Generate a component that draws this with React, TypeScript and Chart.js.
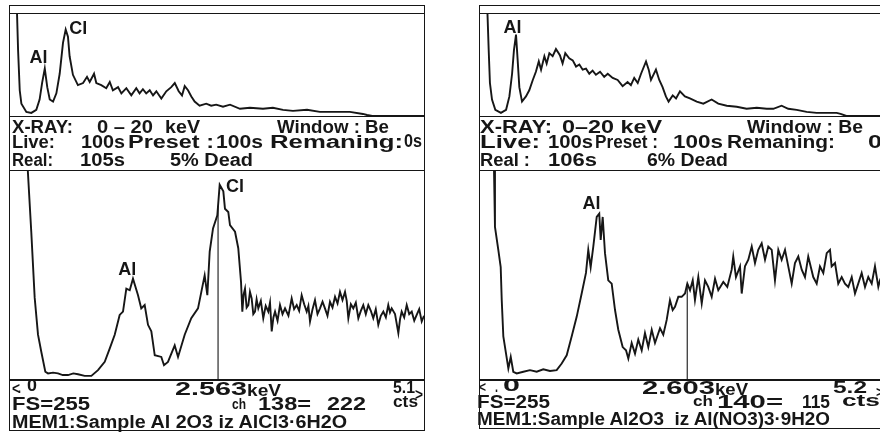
import React, { useEffect, useLayoutEffect, useRef } from "react";
import { Chart, registerables } from "chart.js";

Chart.register(...registerables);

const INK = "#161616";
const FONT = '"Liberation Sans", Arial, Helvetica, sans-serif';

// ---------- data: overview spectra 0–20 keV (relative intensity, %) ----------
const leftTopKeV = [0.33, 0.39, 0.47, 0.55, 0.79, 1.03, 1.27, 1.43, 1.55, 1.68, 1.8, 1.92, 2.08, 2.24, 2.4, 2.56, 2.69, 2.8, 2.88, 3.04, 3.28, 3.53, 3.72, 3.85, 4.06, 4.17, 4.41, 4.65, 4.82, 4.97, 5.22, 5.38, 5.62, 5.86, 6.1, 6.26, 6.42, 6.58, 6.75, 6.91, 7.07, 7.31, 7.55, 7.79, 7.96, 8.15, 8.31, 8.44, 8.6, 8.76, 8.92, 9.16, 9.48, 9.72, 9.96, 10.29, 10.63, 11.11, 11.59, 12.22, 12.7, 13.19, 13.67, 14.35, 14.97, 15.6, 16.42, 17.05, 17.25, 17.5, 20];
const leftTopCounts = [106, 64, 25, 12, 4, 3, 6, 16, 32, 46, 28, 16, 14, 22, 41, 71, 84, 77, 58, 40, 30, 32, 38, 33, 41, 32, 30, 27, 33, 25, 28, 22, 27, 20, 27, 22, 26, 22, 25, 20, 24, 17, 24, 28, 32, 24, 20, 29, 25, 19, 14, 10, 12, 10, 11, 9, 11, 7, 8, 7, 8, 6, 5, 6, 4, 4, 4, 2, 1, 0, 0];

const rightTopKeV = [0.35, 0.42, 0.48, 0.58, 0.74, 1.01, 1.26, 1.42, 1.55, 1.64, 1.74, 1.82, 1.9, 2.03, 2.22, 2.38, 2.55, 2.7, 2.84, 2.95, 3.11, 3.22, 3.35, 3.51, 3.67, 3.86, 3.99, 4.12, 4.31, 4.48, 4.64, 4.8, 4.96, 5.12, 5.28, 5.44, 5.6, 5.8, 6.0, 6.17, 6.41, 6.65, 6.89, 7.13, 7.29, 7.45, 7.62, 7.78, 8.02, 8.15, 8.26, 8.5, 8.66, 8.82, 8.98, 9.11, 9.31, 9.47, 9.66, 9.9, 10.14, 10.47, 10.79, 11.19, 11.51, 11.92, 12.4, 12.88, 13.37, 13.85, 14.17, 14.57, 14.89, 15.3, 15.78, 16.26, 16.75, 17.23, 17.42, 17.7, 20];
const rightTopCounts = [106, 64, 32, 16, 6, 3, 6, 19, 41, 64, 79, 54, 28, 14, 19, 25, 35, 43, 53, 45, 58, 51, 61, 58, 65, 59, 51, 61, 56, 54, 48, 50, 45, 46, 41, 44, 40, 43, 38, 41, 37, 35, 29, 33, 30, 37, 32, 41, 53, 45, 35, 45, 35, 28, 19, 14, 20, 17, 24, 19, 17, 14, 12, 16, 12, 10, 9, 7, 8, 7, 7, 10, 7, 6, 4, 3, 3, 3, 2, 0, 0];

// ---------- data: expanded spectra 0–5.1 / 0–5.2 keV (counts, FS = 255) ----------
const leftZoomKeV = [0.215, 0.262, 0.304, 0.345, 0.386, 0.435, 0.468, 0.53, 0.591, 0.65, 0.715, 0.78, 0.838, 0.92, 1.002, 1.084, 1.167, 1.228, 1.29, 1.351, 1.392, 1.433, 1.475, 1.515, 1.577, 1.617, 1.659, 1.7, 1.741, 1.783, 1.864, 1.897, 1.946, 2.029, 2.07, 2.152, 2.233, 2.316, 2.357, 2.398, 2.431, 2.46, 2.501, 2.554, 2.583, 2.628, 2.648, 2.689, 2.71, 2.772, 2.812, 2.846, 2.862, 2.878, 2.895, 2.915, 2.936, 2.956, 2.977, 2.997, 3.018, 3.038, 3.059, 3.09, 3.12, 3.15, 3.182, 3.203, 3.224, 3.245, 3.265, 3.296, 3.326, 3.357, 3.388, 3.43, 3.47, 3.5, 3.532, 3.562, 3.593, 3.624, 3.655, 3.676, 3.696, 3.727, 3.757, 3.788, 3.819, 3.85, 3.88, 3.911, 3.942, 3.973, 4.004, 4.035, 4.065, 4.096, 4.127, 4.148, 4.168, 4.199, 4.229, 4.26, 4.291, 4.322, 4.352, 4.383, 4.414, 4.445, 4.475, 4.506, 4.537, 4.568, 4.599, 4.63, 4.66, 4.681, 4.702, 4.743, 4.784, 4.805, 4.825, 4.856, 4.887, 4.918, 4.949, 4.98, 5.01, 5.041, 5.072, 5.1];
const leftZoomCounts = [262, 180, 100, 55, 34, 10, 8, 9, 8, 6, 6, 8, 7, 5, 5, 12, 22, 38, 55, 79, 83, 111, 109, 123, 103, 87, 91, 67, 59, 30, 28, 18, 22, 42, 28, 55, 75, 87, 107, 127, 103, 156, 184, 200, 237, 229, 208, 204, 188, 180, 160, 119, 83, 104, 111, 88, 91, 107, 99, 80, 83, 98, 87, 96, 75, 90, 83, 94, 59, 76, 83, 72, 91, 80, 87, 78, 99, 86, 91, 84, 103, 92, 83, 90, 71, 86, 97, 80, 87, 95, 87, 78, 95, 88, 101, 93, 107, 97, 107, 96, 75, 92, 87, 94, 75, 84, 91, 80, 91, 84, 75, 86, 67, 78, 83, 76, 91, 82, 87, 80, 57, 74, 83, 76, 91, 80, 83, 72, 79, 86, 71, 78];

const rightZoomKeV = [0.176, 0.188, 0.23, 0.26, 0.273, 0.293, 0.327, 0.356, 0.386, 0.418, 0.461, 0.544, 0.628, 0.712, 0.795, 0.879, 0.963, 1.026, 1.089, 1.152, 1.215, 1.277, 1.331, 1.36, 1.39, 1.423, 1.466, 1.498, 1.516, 1.541, 1.57, 1.611, 1.654, 1.696, 1.737, 1.792, 1.834, 1.863, 1.905, 1.947, 1.988, 2.031, 2.072, 2.114, 2.157, 2.198, 2.261, 2.302, 2.345, 2.386, 2.42, 2.449, 2.491, 2.533, 2.575, 2.604, 2.638, 2.672, 2.7, 2.742, 2.785, 2.826, 2.867, 2.91, 2.952, 2.993, 3.056, 3.106, 3.161, 3.181, 3.215, 3.266, 3.287, 3.328, 3.37, 3.413, 3.454, 3.495, 3.538, 3.58, 3.621, 3.664, 3.705, 3.747, 3.789, 3.831, 3.872, 3.915, 3.956, 3.998, 4.041, 4.082, 4.123, 4.186, 4.229, 4.27, 4.312, 4.355, 4.396, 4.417, 4.459, 4.5, 4.543, 4.584, 4.626, 4.669, 4.71, 4.751, 4.794, 4.836, 4.877, 4.92, 4.961, 5.003, 5.024, 5.06, 5.1, 5.15, 5.2];
const rightZoomCounts = [255, 186, 158, 137, 97, 53, 32, 14, 28, 10, 8, 10, 12, 10, 13, 11, 12, 20, 30, 53, 77, 105, 130, 158, 137, 162, 198, 202, 170, 198, 154, 121, 117, 85, 61, 40, 36, 26, 45, 32, 49, 36, 57, 40, 61, 45, 63, 55, 73, 97, 85, 89, 101, 101, 105, 117, 109, 121, 97, 125, 93, 121, 113, 101, 123, 109, 119, 113, 134, 150, 125, 138, 105, 138, 146, 162, 142, 158, 166, 146, 162, 158, 121, 158, 146, 158, 138, 117, 142, 150, 134, 125, 150, 125, 117, 138, 130, 154, 158, 138, 142, 117, 125, 117, 113, 125, 105, 117, 130, 113, 125, 117, 138, 113, 121, 130, 118, 124, 120];

// ---------- instrument readouts ----------
const fullScale = [255, 255];
const rangeMaxKeV = [5.1, 5.2];
const cursorKeV = [2.563, 2.603];
const cursorChannel = [138, 140];
const cursorCounts = [222, 115];
const liveSeconds = [100, 100];
const presetSeconds = [100, 100];
const realSeconds = [105, 106];
const deadPercent = [5, 6];
const sampleNames = ["Sample Al 2O3 iz AlCl3·6H2O", "Sample Al2O3  iz Al(NO3)3·9H2O"];

// peak labels in data units (keV, value)
const leftTopLabels = [{ text: "Al", x: 1.38, y: 51 }, { text: "Cl", x: 3.3, y: 80 }];
const rightTopLabels = [{ text: "Al", x: 1.57, y: 81 }];
const leftZoomLabels = [{ text: "Al", x: 1.444, y: 127 }, { text: "Cl", x: 2.772, y: 228 }];
const rightZoomLabels = [{ text: "Al", x: 1.4, y: 208 }];

type Label = { text: string; x: number; y: number };

function interp(xs: number[], ys: number[], x: number) {
  for (let i = 1; i < xs.length; i++) {
    if (xs[i] >= x) {
      const t = (x - xs[i - 1]) / (xs[i] - xs[i - 1]);
      return ys[i - 1] + t * (ys[i] - ys[i - 1]);
    }
  }
  return ys[ys.length - 1];
}

function Spectrum(props: {
  left: number; top: number; width: number; height: number;
  xs: number[]; ys: number[]; xMax: number; yMax: number;
  labels: Label[]; cursor?: number;
}) {
  const ref = useRef<HTMLCanvasElement>(null);
  useEffect(() => {
    const { xs, ys, xMax, yMax, labels, cursor } = props;
    const datasets: any[] = [
      {
        data: xs.map((x, i) => ({ x, y: ys[i] })),
        borderColor: INK,
        borderWidth: 1.9,
        pointRadius: 0,
        tension: 0,
        fill: false,
      },
    ];
    if (cursor !== undefined) {
      const yc = interp(xs, ys, cursor);
      datasets.push({
        data: [{ x: cursor, y: 0 }, { x: cursor, y: yc }],
        borderColor: INK,
        borderWidth: 1.1,
        pointRadius: 0,
        fill: false,
      });
    }
    const labelPlugin = {
      id: "peakLabels",
      afterDatasetsDraw(chart: any) {
        const ctx = chart.ctx;
        const sx = chart.scales.x;
        const sy = chart.scales.y;
        ctx.save();
        ctx.fillStyle = INK;
        ctx.font = `bold 18px ${FONT}`;
        ctx.textAlign = "center";
        ctx.textBaseline = "alphabetic";
        labels.forEach((l) => ctx.fillText(l.text, sx.getPixelForValue(l.x), sy.getPixelForValue(l.y)));
        ctx.restore();
      },
    };
    const chart = new Chart(ref.current as HTMLCanvasElement, {
      type: "line",
      data: { datasets },
      options: {
        animation: false,
        responsive: false,
        maintainAspectRatio: false,
        parsing: false as any,
        normalized: true,
        layout: { padding: 0 },
        scales: {
          x: { type: "linear", min: 0, max: xMax, display: false },
          y: { type: "linear", min: 0, max: yMax, display: false },
        },
        plugins: { legend: { display: false }, tooltip: { enabled: false } },
        events: [],
      },
      plugins: [labelPlugin],
    });
    return () => chart.destroy();
  }, []);
  return (
    <canvas
      ref={ref}
      width={props.width}
      height={props.height}
      style={{ position: "absolute", left: props.left, top: props.top, width: props.width, height: props.height }}
    />
  );
}

function Txt({ t, x, b, w, s = 18 }: { t: string; x: number; b: number; w: number; s?: number }) {
  const ref = useRef<HTMLSpanElement>(null);
  useLayoutEffect(() => {
    const el = ref.current as HTMLSpanElement;
    const fit = () => {
      el.style.transform = "none";
      const nat = el.getBoundingClientRect().width;
      if (nat > 0) el.style.transform = `scaleX(${w / nat})`;
    };
    fit();
    const f: any = (document as any).fonts;
    if (f && f.ready) f.ready.then(fit);
  }, [t, w]);
  return (
    <span
      ref={ref}
      style={{
        position: "absolute",
        left: x,
        top: b - 0.8465 * s,
        fontSize: s,
        lineHeight: 1,
        whiteSpace: "pre",
        fontFamily: FONT,
        fontWeight: 700,
        color: INK,
        transformOrigin: "0 0",
      }}
    >
      {t}
    </span>
  );
}

function HLine({ x, y, w }: { x: number; y: number; w: number }) {
  return <div style={{ position: "absolute", left: x, top: y, width: w, height: 1.6, background: INK }} />;
}

function Panel({ i, x0, bottom }: { i: number; x0: number; bottom: number }) {
  const xs = i === 0 ? leftTopKeV : rightTopKeV;
  const ys = i === 0 ? leftTopCounts : rightTopCounts;
  const zx = i === 0 ? leftZoomKeV : rightZoomKeV;
  const zy = i === 0 ? leftZoomCounts : rightZoomCounts;
  return (
    <>
      <Spectrum left={x0 + 1} top={13} width={414} height={103} xs={xs} ys={ys} xMax={20} yMax={100}
        labels={i === 0 ? leftTopLabels : rightTopLabels} />
      <Spectrum left={x0 + 1} top={170} width={414} height={210} xs={zx} ys={zy} xMax={rangeMaxKeV[i]} yMax={fullScale[i]}
        labels={i === 0 ? leftZoomLabels : rightZoomLabels} cursor={cursorKeV[i]} />
      <div style={{ position: "absolute", left: x0, top: 5, width: 416, height: bottom - 5, border: `1.8px solid ${INK}`, boxSizing: "border-box" }} />
      <HLine x={x0} y={12.5} w={416} />
      <HLine x={x0} y={115.5} w={416} />
      <HLine x={x0} y={169.5} w={416} />
      <HLine x={x0} y={379} w={416} />
    </>
  );
}

export default function App() {
  const L = 0;
  const R = 1;
  return (
    <div style={{ position: "fixed", left: 0, top: 0, width: 880, height: 432, overflow: "hidden", background: "#fff" }}>
      <Panel i={L} x0={9} bottom={431} />
      <Panel i={R} x0={479} bottom={429} />

      {/* left panel readouts */}
      <Txt t="X-RAY:" x={12} b={133} w={61} />
      <Txt t="0 – 20" x={97} b={133} w={56} />
      <Txt t="keV" x={165} b={133} w={35} />
      <Txt t="Window : Be" x={277} b={133} w={112} />
      <Txt t="0s" x={404} b={147} w={18} />
      <Txt t="Live:" x={12} b={148} w={43} />
      <Txt t={`${liveSeconds[L]}s`} x={81} b={148} w={44} />
      <Txt t="Preset :" x={128} b={148} w={86} />
      <Txt t={`${presetSeconds[L]}s`} x={216} b={148} w={47} />
      <Txt t="Remaning:" x={270} b={148} w={133} />
      <Txt t="Real:" x={12} b={166.5} w={41} />
      <Txt t={`${realSeconds[L]}s`} x={80} b={166.5} w={45} />
      <Txt t={`${deadPercent[L]}% Dead`} x={170} b={166.5} w={83} />

      <Txt t="<" x={12} b={395} w={8} s={16} />
      <Txt t="." x={18} b={393} w={3} s={17} />
      <Txt t="0" x={27} b={391} w={10} s={17} />
      <Txt t={cursorKeV[L].toFixed(3)} x={175} b={395} w={72} />
      <Txt t="keV" x={247} b={396.5} w={34} s={16} />
      <Txt t={rangeMaxKeV[L].toFixed(1)} x={393} b={393} w={22} s={17} />
      <Txt t=">" x={415} b={401} w={8} s={16} />
      <Txt t={`FS=${fullScale[L]}`} x={12} b={410} w={78} />
      <Txt t="ch" x={232} b={409} w={14} s={15} />
      <Txt t={`${cursorChannel[L]}=`} x={258} b={410} w={53} />
      <Txt t={`${cursorCounts[L]}`} x={327} b={410} w={39} />
      <Txt t="cts" x={393} b={408} w={25} s={16} />
      <Txt t={`MEM1:${sampleNames[L]}`} x={12} b={428} w={335} />

      {/* right panel readouts */}
      <Txt t="X-RAY:" x={480} b={133} w={72} />
      <Txt t="0–20 keV" x={562} b={133} w={100} />
      <Txt t="Window : Be" x={747} b={133} w={116} />
      <Txt t="0s" x={868} b={148} w={28} />
      <Txt t="Live:" x={480} b={148} w={60} />
      <Txt t={`${liveSeconds[R]}s`} x={548} b={148} w={45} />
      <Txt t="Preset :" x={595} b={148} w={63} />
      <Txt t={`${presetSeconds[R]}s`} x={673} b={148} w={50} />
      <Txt t="Remaning:" x={727} b={148} w={108} />
      <Txt t="Real :" x={480} b={166} w={50} />
      <Txt t={`${realSeconds[R]}s`} x={548} b={166} w={49} />
      <Txt t={`${deadPercent[R]}% Dead`} x={647} b={166} w={81} />

      <Txt t="<" x={479} b={392} w={7} s={15} />
      <Txt t="." x={495} b={392} w={3} s={17} />
      <Txt t="0" x={503} b={391} w={17} s={17} />
      <Txt t={cursorKeV[R].toFixed(3)} x={642} b={394} w={73} />
      <Txt t="keV" x={715} b={396} w={33} s={16} />
      <Txt t={rangeMaxKeV[R].toFixed(1)} x={833} b={393} w={34} s={17} />
      <Txt t=">" x={876} b={397} w={8} s={15} />
      <Txt t={`FS=${fullScale[R]}`} x={477} b={408} w={73} />
      <Txt t="ch" x={693} b={406} w={20} s={15} />
      <Txt t={`${cursorChannel[R]}=`} x={717} b={408} w={66} />
      <Txt t={`${cursorCounts[R]}`} x={802} b={408} w={28} />
      <Txt t="cts" x={842} b={406} w={38} s={17} />
      <Txt t={`MEM1:${sampleNames[R]}`} x={477} b={425} w={353} />
    </div>
  );
}
